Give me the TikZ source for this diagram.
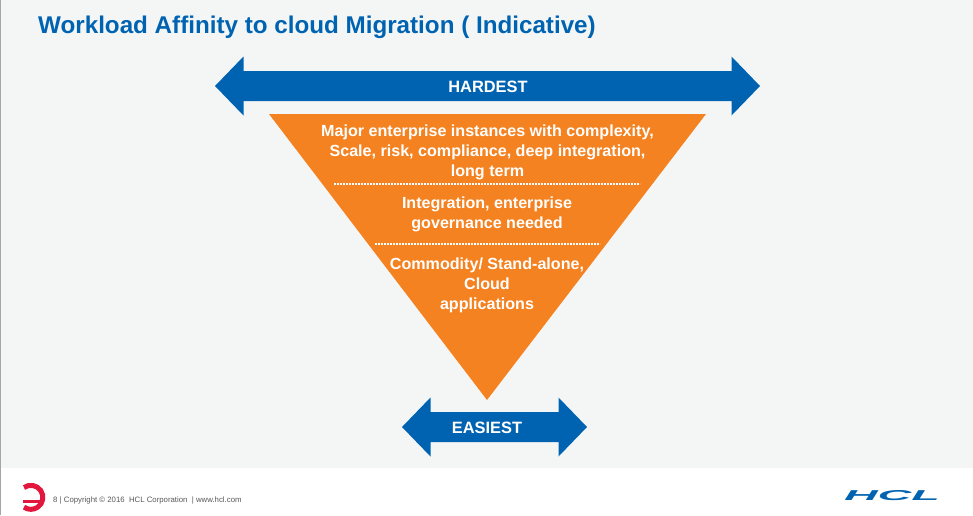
\documentclass[tikz,border=0pt]{standalone}
\usepackage{fontspec}
\setmainfont{Liberation Sans}
\usepackage{tikz}
\definecolor{slide}{HTML}{F4F6F6}
\definecolor{hclblue}{HTML}{0063B1}
\definecolor{funnel}{HTML}{F58220}
\definecolor{logored}{HTML}{E3173E}
\tikzset{
  level text/.style={text=white,font=\bfseries\fontsize{16.1}{19.8}\selectfont,align=center,inner sep=0pt},
  arrow text/.style={text=white,font=\bfseries\fontsize{16.4}{18}\selectfont,inner sep=0pt},
  level rule/.style={draw=white,line width=1.6pt,dash pattern=on 1.6pt off 1.4pt},
  footer text/.style={text=black!65,font=\fontsize{7.8}{8}\selectfont,anchor=west,inner sep=0pt},
}

\begin{document}
\begin{tikzpicture}[x=1pt,y=-1pt]
\useasboundingbox (0,0) rectangle (973,515);
\fill[white] (0,0) rectangle (973,515);
\fill[slide] (0,0) rectangle (973,468);
\fill[black!35] (0,0) rectangle (1,515);
\node[anchor=west,inner sep=0pt,text=hclblue,font=\bfseries\fontsize{24.2}{28}\selectfont] (title) at (38,27) {Workload Affinity to cloud Migration ( Indicative)};
\foreach[count=\k] \xa/\xb/\ym/\xt/\pth in {215/760/86/488/HARDEST,402/587/427/487/EASIEST}
{
  \fill[hclblue] (\xa,\ym) -- (\xa+28.5,\ym-29.5) -- (\xa+28.5,\ym-15) -- (\xb-28.5,\ym-15)
    -- (\xb-28.5,\ym-29.5) -- (\xb,\ym) -- (\xb-28.5,\ym+29.5) -- (\xb-28.5,\ym+15)
    -- (\xa+28.5,\ym+15) -- (\xa+28.5,\ym+29.5) -- cycle;
  \node[arrow text] (arrow\k) at (\xt,\ym+1) {\pth};
}
\fill[funnel] (269,114) -- (706,114) -- (487,400) -- cycle;
\node[level text] (major) at (487.5,152.5) {Major enterprise instances with complexity,\\Scale, risk, compliance, deep integration,\\long term};
\node[level text] (integration) at (487,214.5) {Integration, enterprise\\governance needed};
\node[level text] (commodity) at (487,285.5) {Commodity/ Stand-alone,\\Cloud\\applications};
\coordinate (upper a) at (334,184);
\coordinate (upper b) at (640,184);
\coordinate (lower a) at (375,244);
\coordinate (lower b) at (600,244);
\draw[level rule] (upper a) -- (upper b);
\draw[level rule] (lower a) -- (lower b);
\draw[logored,line width=5pt] (24,487.5) arc[start angle=-125,end angle=125,radius=12];
\fill[logored] (22.5,499.5) -- (41,499.5) -- (41,503) -- (22.5,503) -- cycle;
\node[footer text] (footer) at (53,500) {8 | Copyright © 2016\ \ HCL Corporation\ \ | www.hcl.com};
\node[inner sep=0pt,text=hclblue] (hcl) at (892,496) {\resizebox{96pt}{10pt}{\bfseries\itshape HCL}};
\end{tikzpicture}
\end{document}
